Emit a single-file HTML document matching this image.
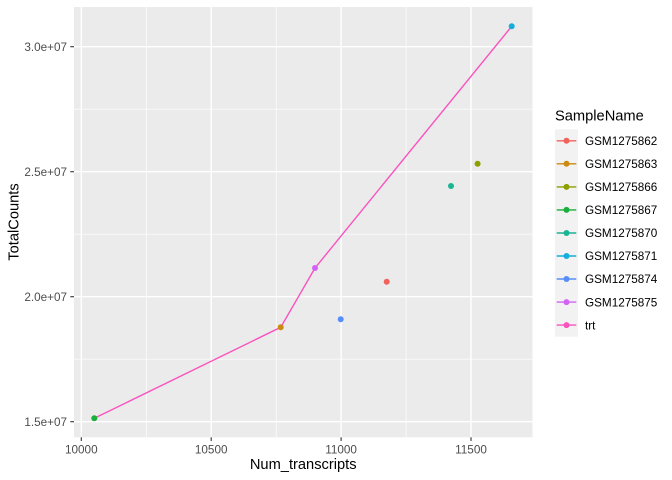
<!DOCTYPE html>
<html><head><meta charset="utf-8"><style>
html,body{margin:0;padding:0;background:#fff;}
svg{display:block;font-family:"Liberation Sans",Arial,sans-serif;}
</style></head><body>
<svg width="672" height="480" viewBox="0 0 672 480" xmlns="http://www.w3.org/2000/svg">
<rect x="0" y="0" width="672" height="480" fill="#fff"/>
<!-- panel -->
<rect x="74" y="7" width="458.5" height="430.3" fill="#EBEBEB"/>
<!-- minor grid -->
<g stroke="#fff" stroke-width="0.7">
<line x1="146.3" y1="7" x2="146.3" y2="437.3"/>
<line x1="276.2" y1="7" x2="276.2" y2="437.3"/>
<line x1="406.1" y1="7" x2="406.1" y2="437.3"/>
<line x1="74" y1="109.2" x2="532.5" y2="109.2"/>
<line x1="74" y1="234.2" x2="532.5" y2="234.2"/>
<line x1="74" y1="359.2" x2="532.5" y2="359.2"/>
</g>
<!-- major grid -->
<g stroke="#fff" stroke-width="1.4">
<line x1="81.3" y1="7" x2="81.3" y2="437.3"/>
<line x1="211.2" y1="7" x2="211.2" y2="437.3"/>
<line x1="341.1" y1="7" x2="341.1" y2="437.3"/>
<line x1="471" y1="7" x2="471" y2="437.3"/>
<line x1="74" y1="46.7" x2="532.5" y2="46.7"/>
<line x1="74" y1="171.7" x2="532.5" y2="171.7"/>
<line x1="74" y1="296.7" x2="532.5" y2="296.7"/>
<line x1="74" y1="421.7" x2="532.5" y2="421.7"/>
</g>
<!-- trt line -->
<polyline points="94.3,418.3 280.7,327.3 315,268 511.7,26.3" fill="none" stroke="#FA52BE" stroke-width="1.4"/>
<!-- points -->
<circle cx="94.3" cy="418.3" r="3" fill="#1AAE3A"/>
<circle cx="280.7" cy="327.3" r="3" fill="#CC8A10"/>
<circle cx="315" cy="268" r="3" fill="#D463F5"/>
<circle cx="340.7" cy="319.3" r="3" fill="#578EFA"/>
<circle cx="386.7" cy="281.7" r="3" fill="#F2625C"/>
<circle cx="451" cy="186" r="3" fill="#1AB592"/>
<circle cx="477.6" cy="163.7" r="3" fill="#8CA000"/>
<circle cx="511.7" cy="26.3" r="3" fill="#14ADDC"/>
<!-- ticks -->
<g stroke="#333" stroke-width="1.1">
<line x1="81.3" y1="437.3" x2="81.3" y2="441"/>
<line x1="211.2" y1="437.3" x2="211.2" y2="441"/>
<line x1="341.1" y1="437.3" x2="341.1" y2="441"/>
<line x1="471" y1="437.3" x2="471" y2="441"/>
<line x1="70.3" y1="46.7" x2="74" y2="46.7"/>
<line x1="70.3" y1="171.7" x2="74" y2="171.7"/>
<line x1="70.3" y1="296.7" x2="74" y2="296.7"/>
<line x1="70.3" y1="421.7" x2="74" y2="421.7"/>
</g>
<g fill="#4D4D4D" font-size="11.73">
<text x="81.3" y="453.3" text-anchor="middle">10000</text>
<text x="211.2" y="453.3" text-anchor="middle">10500</text>
<text x="341.1" y="453.3" text-anchor="middle">11000</text>
<text x="471" y="453.3" text-anchor="middle">11500</text>
<text x="67" y="50.9" text-anchor="end">3.0e+07</text>
<text x="67" y="175.9" text-anchor="end">2.5e+07</text>
<text x="67" y="300.9" text-anchor="end">2.0e+07</text>
<text x="67" y="425.9" text-anchor="end">1.5e+07</text>
</g>
<text x="303.2" y="469" text-anchor="middle" font-size="14.67" fill="#000">Num_transcripts</text>
<text transform="translate(18.5,222) rotate(-90)" text-anchor="middle" font-size="14.67" fill="#000">TotalCounts</text>
<!-- legend -->
<text x="555" y="120.5" font-size="14.67" fill="#000">SampleName</text>
<rect x="555" y="129.3" width="23" height="207.4" fill="#F2F2F2"/>
<g stroke-width="1.4">
<line x1="556.7" y1="140.8" x2="576.3" y2="140.8" stroke="#F2625C"/>
<line x1="556.7" y1="163.8" x2="576.3" y2="163.8" stroke="#CC8A10"/>
<line x1="556.7" y1="186.9" x2="576.3" y2="186.9" stroke="#8CA000"/>
<line x1="556.7" y1="209.9" x2="576.3" y2="209.9" stroke="#1AAE3A"/>
<line x1="556.7" y1="233" x2="576.3" y2="233" stroke="#1AB592"/>
<line x1="556.7" y1="256" x2="576.3" y2="256" stroke="#14ADDC"/>
<line x1="556.7" y1="279" x2="576.3" y2="279" stroke="#578EFA"/>
<line x1="556.7" y1="302.1" x2="576.3" y2="302.1" stroke="#D463F5"/>
<line x1="556.7" y1="325.1" x2="576.3" y2="325.1" stroke="#FA52BE"/>
</g>
<circle cx="566.5" cy="140.8" r="3" fill="#F2625C"/>
<circle cx="566.5" cy="163.8" r="3" fill="#CC8A10"/>
<circle cx="566.5" cy="186.9" r="3" fill="#8CA000"/>
<circle cx="566.5" cy="209.9" r="3" fill="#1AAE3A"/>
<circle cx="566.5" cy="233" r="3" fill="#1AB592"/>
<circle cx="566.5" cy="256" r="3" fill="#14ADDC"/>
<circle cx="566.5" cy="279" r="3" fill="#578EFA"/>
<circle cx="566.5" cy="302.1" r="3" fill="#D463F5"/>
<circle cx="566.5" cy="325.1" r="3" fill="#FA52BE"/>
<g font-size="11.73" fill="#000">
<text x="585" y="145">GSM1275862</text>
<text x="585" y="168">GSM1275863</text>
<text x="585" y="191.1">GSM1275866</text>
<text x="585" y="214.1">GSM1275867</text>
<text x="585" y="237.2">GSM1275870</text>
<text x="585" y="260.2">GSM1275871</text>
<text x="585" y="283.2">GSM1275874</text>
<text x="585" y="306.3">GSM1275875</text>
<text x="585" y="329.3">trt</text>
</g>
</svg>
</body></html>
